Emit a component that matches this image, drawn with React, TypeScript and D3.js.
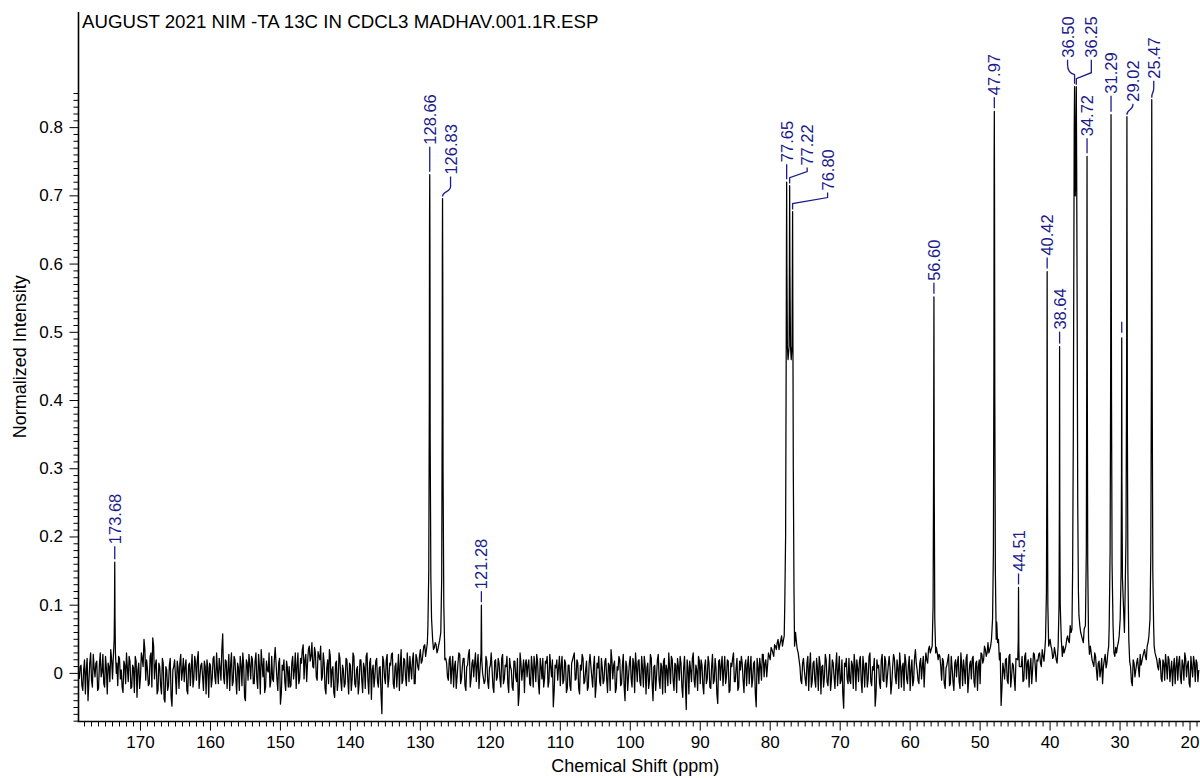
import React from "react";
import * as d3 from "d3";

// ---- chart text ----
const TITLE = "AUGUST 2021 NIM -TA 13C IN CDCL3 MADHAV.001.1R.ESP";
const X_LABEL = "Chemical Shift (ppm)";
const Y_LABEL = "Normalized Intensity";

// ---- axes ----
const X_DOMAIN: [number, number] = [178.86, 18.86];
const Y_DOMAIN: [number, number] = [-0.0705, 0.9695];
const xTickValues = [170, 160, 150, 140, 130, 120, 110, 100, 90, 80, 70, 60, 50, 40, 30, 20];
const yTickValues = [0, 0.1, 0.2, 0.3, 0.4, 0.5, 0.6, 0.7, 0.8];

// ---- spectrum baseline, in 1/1000 intensity ----
// samples on the 0.25 ppm grid starting at 178.75 ppm
const BASE_START = 178.75;
const BASE_STEP = 0.25;
const baselineMilli = [
  -8, 12, -25, 20, 5, -40, 15, -10, 28, -5, 18, -22, 30, 2, -15, 25, -30, 10, 35, -8,
  20, 40, -18, 22, 5, -28, 12, 30, -12, 18, -20, 8, 25, -35, 15, -5, 22, 50, -10, 5,
  -15, 30, 52, -8, 20, -25, 10, -30, 15, -42, 5, -18, 22, -48, 10, -5, 18, -22, 28, 3,
  -12, 20, -30, 15, 8, -20, 25, -10, 32, -5, 15, -25, 10, 20, -35, 12, -8, 25, -15, 5,
  22, -10, 58, -15, 18, 5, -25, 30, -12, 20, -30, 8, 25, -18, 12, -40, 15, 28, -8, 20,
  -15, 30, -22, 10, 35, -5, -28, 18, 2, -20, 25, -12, 38, -8, 15, -45, 12, 20, -25, 8,
  10, -18, 25, 5, -22, 30, -8, 15, 42, 20, -12, 35, 18, 45, 8, 30, -10, 25, 40, -5,
  15, -30, 20, 35, -20, 10, -35, 18, -12, 22, -25, 5, -15, 20, -30, 12, -8, 25, -20, 10,
  -15, 20, -28, 8, 25, -10, 15, -38, 12, -5, 22, -20, 10, -59, 18, -15, 28, -8, 12, 30,
  -22, 15, 5, -25, 35, -10, 20, -18, 10, 25, -8, 30, -15, 22, 5, 35, 18, 40, 25, 45,
  30, 45, 50, 38, 42, 35, 48, 30, 40, 20, 15, -10, 25, 8, -20, 18, -5, 30, -15, 10,
  22, -25, 12, 35, -8, 20, 15, -12, 28, -18, 25, 30, -10, 18, -22, 12, 5, -28, 20, -5,
  15, -20, 28, -8, 10, -15, 22, 5, -25, 18, -12, -47, 30, -10, 20, 15, -5, 20, -18, 8,
  25, -12, 18, -30, 10, 22, -8, 15, -20, 28, -5, -49, 12, 20, 8, -18, 25, -10, 15, -22,
  12, -25, 20, 30, -8, 15, -30, 5, 22, -12, 18, -20, 28, -5, 10, -35, 15, 25, -18, 8,
  -10, 22, -28, 12, 35, -8, 18, -22, 5, 20, -15, 28, -40, 10, -5, 25, -20, 15, 30, -12,
  20, -18, 8, 25, -30, 15, -10, 22, -40, 12, -5, 28, -22, 10, 18, -28, 5, 30, -15, 20,
  -25, 12, 22, -10, 15, -35, 25, -53, 8, 18, -12, 30, -20, 5, 25, -15, 12, -30, 20, -8,
  15, -22, 28, -10, 8, -44, 20, 12, -18, 25, -5, 18, -25, 10, 30, -12, 22, -20, 5, 15,
  -28, 20, 12, -15, 25, -8, 18, -49, 10, 22, -10, 28, 15, -5, 30, 20, 35, 25, 40, 45,
  35, 48, 40, 55, 60, 70, 80, 90, 85, 80, 45, 30, 10, -15, 22, -8, 15, -25, 30, -12,
  18, -20, 8, 25, -30, 12, -5, 20, -18, 28, -10, 15, -22, 30, 5, -15, 20, -51, 10, -8,
  22, -15, 12, 28, -25, 8, 18, -10, 25, -20, 15, -8, 30, -18, 5, -48, 20, 12, -22, 28,
  -12, 18, -5, 25, -30, 10, 22, -15, 8, 30, -20, 15, 28, -8, 12, -25, 20, -10, 35, 5,
  -15, 22, 10, -20, 30, 15, 40, 35, 45, 30, 38, 20, 25, -10, 18, -22, 12, 28, -15, 8,
  -25, 20, 15, -12, 30, -18, 5, 22, -28, 12, -8, 25, -20, 18, 10, -15, 28, 20, 35, 30,
  30, 40, 60, 90, 60, 45, 20, -47, 15, -8, 22, -15, 28, -5, 12, -25, 20, 8, -18, 25,
  -10, 30, 15, -20, 22, 5, 28, -12, 18, 30, 10, 25, 35, 20, 40, 50, 35, 25, 30, 15,
  20, 35, 25, 30, 40, 55, 45, 60, 80, 110, 150, 100, 70, 55, 45, 40, 60, 35, 40, 20,
  10, 25, -10, 18, 5, -15, 20, 8, 30, 45, 60, 40, 25, 30, 45, 60, 90, 70, 50, 40,
  30, 10, -18, 15, 5, 22, -5, 12, 25, 35, 20, 45, 60, 70, 55, 30, 20, 5, 18, -12,
  15, 28, -8, 20, 5, -18, 22, 10, -10, 25, -15, 12, 30, -5, 18, -20, 8, 25, -12, 15, 5,
];
// samples halfway between the grid points above (178.625 ppm downward)
const MID_START = 178.625;
const baselineMidMilli = [
  10, -18, 5, -30, 22, -12, 30, -20, 8, 15, -25, 12, -5, 28, -20, 8, 15, -12, 20, 30,
  -10, 15, 25, -8, -20, 18, -15, 8, 25, -22, 12, -28, 18, 5, -22, 30, 10, 35, 20, -18,
  25, -20, 40, 12, -30, 15, -18, 22, -38, 10, -25, 12, -35, 5, 20, -30, 8, 15, -10, 22,
  10, -25, 12, -18, 28, -8, 15, 20, -22, 12, -5, 18, -30, 8, 15, -20, 22, -5, 30, -15,
  8, 35, -5, 20, -22, 28, 12, -18, 25, -8, 15, -25, 12, 30, -35, 20, -10, 12, 25, -15,
  18, -8, 28, -30, 15, 22, -20, 5, 30, -12, -8, 20, 15, -25, 22, -30, 5, -12, 18, -20,
  -20, 15, -8, 30, 12, -15, 22, 35, -8, 28, 15, 40, 25, 10, 38, -5, 32, 20, -10, 30,
  -22, 8, -15, 25, 5, -28, 15, -25, 30, -10, 12, -20, 22, -8, 15, -25, 30, -15, 5, -30,
  20, -10, 15, -22, 30, -30, 22, 5, -20, 18, -12, 8, -30, 25, -5, 20, -20, 15, 28, -15,
  10, -20, 28, 12, -15, 22, -5, 30, -12, 8, 20, -15, 28, 10, 25, 15, 30, 42, 35, 40,
  48, 40, 35, 45, 30, 42, 38, 25, 30, 22, -5, 20, -15, 25, 10, -22, 15, 28, -8, 22,
  -18, 10, 28, -20, 15, -5, 30, 12, -22, 20, 10, -15, 25, -12, 8, 30, -20, 18, -10, 22,
  -8, 22, -15, 12, 25, -28, 10, -20, 18, -5, 22, -30, 15, 5, -28, 20, 12, -15, 25, -20,
  10, 28, -15, 22, -8, -20, 18, 25, -12, 10, 20, -25, 8, -10, 25, 12, -15, 20, -28, 12,
  -18, 15, 25, -10, 20, -22, 12, 28, -15, 5, -25, 15, 10, -20, 25, -18, 8, -12, 22, -15,
  18, -8, 15, -25, 20, 12, -28, 10, 25, -18, 12, -20, 18, -25, 15, -8, 22, -28, 10, 18,
  -12, 25, -20, 12, 8, -22, 28, -15, 10, -25, 20, -10, 15, -30, 22, 12, -18, 8, 25, -10,
  15, -28, 10, 25, -20, 8, -15, 20, -30, 5, 22, -10, 12, -25, 18, 20, -18, 10, -15, 25,
  -20, 10, -15, 22, -30, 18, -10, 25, 5, -15, 20, -28, 15, 22, -12, 8, -25, 18, 25, -10,
  12, -18, 25, 8, -20, 15, -30, 22, -15, 10, 28, -5, 20, 12, 25, 38, 30, 42, 35, 50,
  42, 55, 48, 62, 65, 75, 85, 80, 70, 60, 35, 20, -10, 15, 5, -18, 25, 10, -20, 15,
  -10, 22, -25, 15, 10, -20, 28, -12, 5, -25, 20, -5, 12, -18, 25, -10, -30, 15, 22, -15,
  -10, 18, -22, 12, 20, -12, 25, -28, 10, 15, -20, 25, -12, 10, 22, -30, 8, -15, 20, -10,
  25, -20, 12, 8, -15, 28, -5, 20, -22, 12, 10, -25, 18, -15, 25, 5, -18, 22, 15, -10,
  15, -8, 25, 12, 20, 35, 30, 50, 40, 42, 30, 28, 10, 22, -15, 8, 20, -18, 25, -12,
  15, -5, 25, -22, 12, 20, -15, 28, -8, 18, 22, -12, 15, -25, 20, 30, 15, 40, 25, 45,
  35, 50, 70, 85, 75, 50, 30, -20, 5, 20, -10, 25, -20, 15, -8, 22, -15, 30, 10, -12,
  25, -8, 20, 10, -15, 30, 12, 20, 28, 15, 35, 18, 30, 45, 28, 40, 22, 38, 20, 28,
  30, 28, 40, 35, 50, 48, 70, 65, 95, 130, 120, 85, 60, 50, 65, 45, 50, 28, 30, 15,
  30, 5, 15, -5, 22, 10, 28, 15, 40, 50, 50, 30, 38, 40, 55, 75, 80, 60, 45, 35,
  18, -12, 20, -5, 15, 8, 28, 18, 30, 25, 40, 55, 65, 60, 40, 25, 10, 22, -8, 20,
  -10, 12, 25, -12, 18, 8, -15, 25, 15, -5, 20, -10, 22, 12, -15, 25, -5, 15, 20, -12,
];

// ---- resonances: apex [ppm, intensity] ----
const peakApex: [number, number][] = [
  [173.68, 0.163],
  [128.66, 0.731],
  [126.83, 0.696],
  [121.28, 0.1],
  [77.65, 0.72],
  [77.22, 0.715],
  [76.8, 0.677],
  [56.6, 0.552],
  [47.97, 0.824],
  [44.51, 0.126],
  [40.42, 0.589],
  [38.64, 0.479],
  [36.5, 0.86],
  [36.25, 0.86],
  [34.72, 0.758],
  [31.29, 0.819],
  [29.76, 0.492],
  [29.02, 0.816],
  [25.47, 0.841],
];

// line-shape points on the flanks of each resonance [ppm, intensity]
const peakSkirt: [number, number][] = [
  [173.9, 0.02], [173.76, 0.05], [173.72, 0.09], [173.64, 0.08], [173.58, 0.03], [173.45, 0.0],
  [128.92, 0.07], [128.8, 0.15], [128.72, 0.4], [128.69, 0.66], [128.63, 0.62], [128.6, 0.35], [128.5, 0.14], [128.4, 0.08],
  [127.08, 0.06], [126.95, 0.14], [126.88, 0.38], [126.86, 0.62], [126.8, 0.58], [126.76, 0.3], [126.65, 0.1], [126.55, 0.05],
  [121.45, 0.01], [121.33, 0.03], [121.22, 0.02], [121.1, 0.0],
  [77.92, 0.1], [77.8, 0.2], [77.72, 0.45], [77.68, 0.62], [77.62, 0.6], [77.55, 0.48], [77.45, 0.46],
  [77.3, 0.48], [77.25, 0.62], [77.19, 0.6], [77.1, 0.48], [77.0, 0.46], [76.88, 0.48], [76.83, 0.6],
  [76.77, 0.55], [76.7, 0.3], [76.6, 0.12], [76.52, 0.04],
  [56.85, 0.04], [56.72, 0.1], [56.65, 0.3], [56.56, 0.28], [56.48, 0.08], [56.35, 0.03],
  [48.22, 0.08], [48.1, 0.18], [48.03, 0.45], [48.0, 0.74], [47.94, 0.7], [47.9, 0.4], [47.82, 0.15], [47.7, 0.05],
  [44.62, 0.02], [44.55, 0.05], [44.47, 0.04], [44.4, 0.01],
  [40.65, 0.05], [40.52, 0.12], [40.46, 0.3], [40.38, 0.28], [40.32, 0.1], [40.2, 0.04],
  [38.85, 0.04], [38.72, 0.1], [38.67, 0.25], [38.61, 0.22], [38.55, 0.1], [38.4, 0.05],
  [36.78, 0.15], [36.68, 0.35], [36.6, 0.62], [36.55, 0.8], [36.45, 0.76], [36.4, 0.7], [36.33, 0.72],
  [36.3, 0.8], [36.2, 0.74], [36.12, 0.5], [36.05, 0.25], [35.95, 0.12],
  [34.95, 0.07], [34.82, 0.18], [34.76, 0.45], [34.68, 0.42], [34.62, 0.16], [34.5, 0.05],
  [31.55, 0.07], [31.42, 0.18], [31.34, 0.45], [31.31, 0.66], [31.26, 0.62], [31.22, 0.4], [31.14, 0.16], [31.0, 0.07],
  [29.98, 0.08], [29.85, 0.15], [29.79, 0.3], [29.73, 0.28], [29.66, 0.14],
  [29.3, 0.1], [29.15, 0.2], [29.06, 0.45], [29.04, 0.64], [28.99, 0.6], [28.95, 0.35], [28.88, 0.15], [28.75, 0.05],
  [25.72, 0.08], [25.6, 0.18], [25.52, 0.45], [25.49, 0.68], [25.44, 0.64], [25.4, 0.4], [25.32, 0.15], [25.2, 0.07],
];

// ---- peak annotations (text is the labelled chemical shift) ----
const labelPpm = [
  173.68, 128.66, 126.83, 121.28, 77.65, 77.22, 76.8, 56.6, 47.97, 44.51,
  40.42, 38.64, 36.5, 36.25, 34.72, 31.29, 29.02, 25.47,
];
const tickOnlyPpm = [29.76];

type LeaderKind = "straight" | "tilde" | "elbow" | "brace";
// connector shape and offsets (px) for each annotation, same order as labelPpm
const labelLayout: { kind: LeaderKind; dx: number; lead: number }[] = [
  { kind: "straight", dx: 0, lead: 18 },
  { kind: "straight", dx: 0, lead: 30 },
  { kind: "tilde", dx: 8, lead: 24 },
  { kind: "straight", dx: 0, lead: 16 },
  { kind: "straight", dx: 0, lead: 20 },
  { kind: "elbow", dx: 17.5, lead: 20 },
  { kind: "elbow", dx: 35, lead: 21 },
  { kind: "straight", dx: 0, lead: 16 },
  { kind: "straight", dx: 0, lead: 16 },
  { kind: "straight", dx: 0, lead: 16 },
  { kind: "straight", dx: 0, lead: 16 },
  { kind: "straight", dx: 0, lead: 17 },
  { kind: "brace", dx: -7, lead: 29 },
  { kind: "elbow", dx: 15, lead: 29 },
  { kind: "straight", dx: 0, lead: 20 },
  { kind: "straight", dx: 0, lead: 21 },
  { kind: "tilde", dx: 6, lead: 15 },
  { kind: "tilde", dx: 2, lead: 21 },
];

const W = 1200;
const H = 778;
const LEFT = 78.5;
const RIGHT = 1198;
const TOP = 12;
const BOTTOM = 721.5;
const FONT = "'Liberation Sans', Arial, Helvetica, sans-serif";
const LABEL_BLUE = "#1c1c8c";

export default function App() {
  const x = d3.scaleLinear().domain(X_DOMAIN).range([LEFT, RIGHT]);
  const y = d3.scaleLinear().domain(Y_DOMAIN).range([BOTTOM, TOP]);

  // merge baseline with peak shapes; baseline samples under a peak are replaced
  const near = (ppm: number) => peakApex.some(([p]) => Math.abs(ppm - p) < 0.3);
  const gridPts: [number, number][] = baselineMilli.map(
    (v, i) => [BASE_START - i * BASE_STEP, v / 1000] as [number, number]
  );
  const midPts: [number, number][] = baselineMidMilli.map(
    (v, i) => [MID_START - i * BASE_STEP, v / 1000] as [number, number]
  );
  const basePts = [...gridPts, ...midPts].filter(([ppm]) => !near(ppm));
  const trace = [...basePts, ...peakApex, ...peakSkirt].sort((a, b) => b[0] - a[0]);
  const line = d3
    .line<[number, number]>()
    .x((d) => x(d[0]))
    .y((d) => y(d[1]));

  const apexOf = (ppm: number) => {
    const hit = peakApex.find(([p]) => Math.abs(p - ppm) < 1e-6);
    return hit ? hit[1] : 0;
  };

  // x ticks: every ppm, long every 10
  const xMinor = d3.range(178, 18, -1);
  // y ticks: every 0.01
  const yMinor = d3.range(-7, 86, 1).map((k) => k / 100);

  const leaderPath = (px: number, top: number, kind: LeaderKind, dx: number, lead: number) => {
    const lx = px + dx;
    const end = top - lead + 2;
    switch (kind) {
      case "straight":
        return `M${px},${top - 3}L${px},${end}`;
      case "tilde":
        return `M${px},${top - 2}C${px},${top - 8} ${lx},${top - 6} ${lx},${top - 12}L${lx},${end}`;
      case "elbow":
        return `M${px},${top - 2}L${px},${top - 8}L${lx},${top - 14}L${lx},${end}`;
      case "brace":
        return `M${px},${top - 3}L${px},${top - 12}Q${lx},${top - 14} ${lx},${top - 22}L${lx},${end}`;
    }
  };

  return (
    <svg
      width={W}
      height={H}
      viewBox={`0 0 ${W} ${H}`}
      style={{ position: "absolute", left: 0, top: 0, background: "#fff" }}
      fontFamily={FONT}
    >
      <defs>
        <clipPath id="plot-clip">
          <rect x={LEFT} y={0} width={W - LEFT} height={BOTTOM} />
        </clipPath>
      </defs>
      <rect width={W} height={H} fill="#fff" />

      <text x={82} y={28} fontSize={18.7} fill="#000">
        {TITLE}
      </text>

      {/* spectrum */}
      <path
        d={line(trace) ?? ""}
        fill="none"
        stroke="#000"
        strokeWidth={1.25}
        strokeLinejoin="round"
        clipPath="url(#plot-clip)"
      />

      {/* y axis */}
      <line x1={LEFT} x2={LEFT} y1={TOP} y2={BOTTOM} stroke="#000" strokeWidth={1.6} />
      {yMinor.map((v) => {
        const major = Math.abs(v * 10 - Math.round(v * 10)) < 1e-6;
        return (
          <line
            key={`yt${v}`}
            x1={LEFT - (major ? 9 : 5)}
            x2={LEFT}
            y1={y(v)}
            y2={y(v)}
            stroke="#000"
            strokeWidth={1}
          />
        );
      })}
      {yTickValues.map((v) => (
        <text
          key={`yl${v}`}
          x={63}
          y={y(v)}
          fontSize={17}
          textAnchor="end"
          dominantBaseline="central"
          fill="#000"
        >
          {v === 0 ? "0" : d3.format(".1f")(v)}
        </text>
      ))}
      <text
        transform={`translate(20,${(TOP + BOTTOM) / 2 - 10}) rotate(-90)`}
        fontSize={18}
        textAnchor="middle"
        dominantBaseline="central"
        fill="#000"
      >
        {Y_LABEL}
      </text>

      {/* x axis */}
      <line x1={LEFT - 1} x2={RIGHT + 2} y1={BOTTOM} y2={BOTTOM} stroke="#000" strokeWidth={1.6} />
      {xMinor.map((v) => {
        const major = v % 10 === 0;
        return (
          <line
            key={`xt${v}`}
            x1={x(v)}
            x2={x(v)}
            y1={BOTTOM}
            y2={BOTTOM + (major ? 9 : 5)}
            stroke="#000"
            strokeWidth={1}
          />
        );
      })}
      {xTickValues.map((v) => (
        <text key={`xl${v}`} x={x(v)} y={748} fontSize={17} textAnchor="middle" fill="#000">
          {v}
        </text>
      ))}
      <text x={(LEFT + RIGHT) / 2 - 3} y={772} fontSize={18} textAnchor="middle" fill="#000">
        {X_LABEL}
      </text>

      {/* peak annotations */}
      {labelPpm.map((ppm, i) => {
        const { kind, dx, lead } = labelLayout[i];
        const px = x(ppm);
        const top = y(apexOf(ppm));
        return (
          <g key={`pl${ppm}`}>
            <path
              d={leaderPath(px, top, kind, dx, lead)}
              fill="none"
              stroke={LABEL_BLUE}
              strokeWidth={1.3}
            />
            <text
              transform={`translate(${px + dx},${top - lead}) rotate(-90)`}
              fontSize={16.5}
              fill={LABEL_BLUE}
              dominantBaseline="central"
            >
              {ppm.toFixed(2)}
            </text>
          </g>
        );
      })}
      {tickOnlyPpm.map((ppm) => {
        const px = x(ppm);
        const top = y(apexOf(ppm));
        return (
          <line
            key={`tk${ppm}`}
            x1={px}
            x2={px}
            y1={top - 5}
            y2={top - 16}
            stroke={LABEL_BLUE}
            strokeWidth={1.3}
          />
        );
      })}
    </svg>
  );
}
